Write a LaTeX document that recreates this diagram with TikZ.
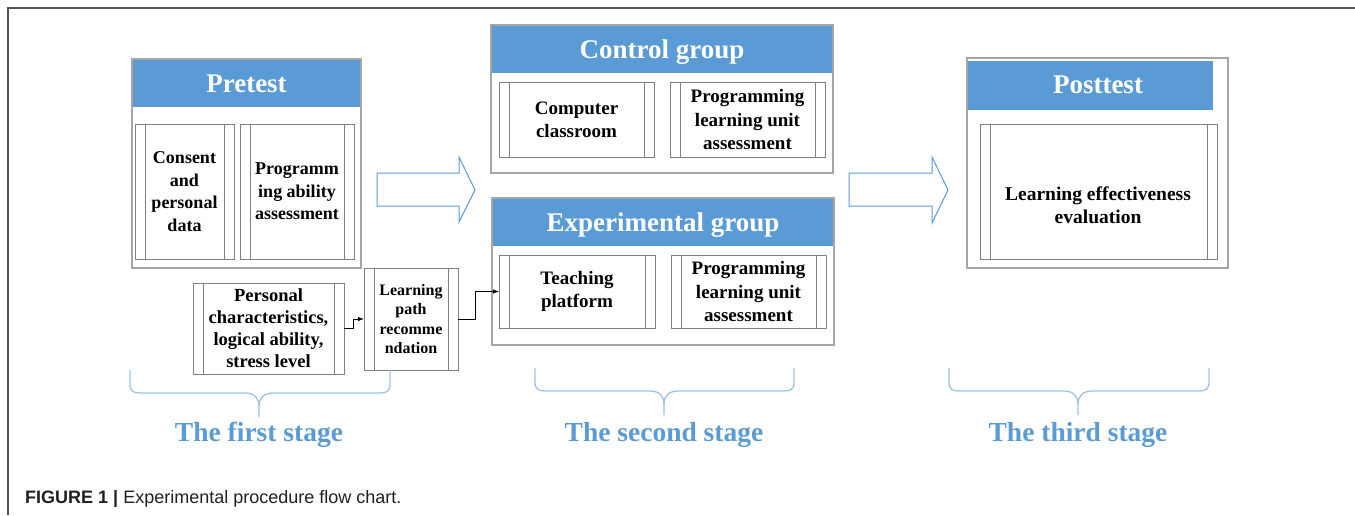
\documentclass[tikz,border=0pt]{standalone}
\usepackage{fontspec}
\setmainfont{Liberation Serif}
\setsansfont{Liberation Sans}
\usetikzlibrary{arrows.meta,calc}
\definecolor{hdr}{HTML}{5B9BD5}
\definecolor{brc}{HTML}{9DC3E6}
\definecolor{obox}{HTML}{A6A6A6}
\definecolor{ibox}{HTML}{808080}
\definecolor{frm}{HTML}{555555}
\definecolor{capc}{HTML}{231F20}
\tikzset{
 outerbox/.style={draw=obox, line width=1.2pt, anchor=north west, inner sep=0pt, outer sep=0pt},
 hdrbox/.style={fill=hdr, anchor=north west, inner sep=0pt, outer sep=0pt, text=white,
   font=\fontsize{27}{27}\selectfont\bfseries, text height=18.5pt, text depth=0pt},
 subproc/.style={draw=ibox, line width=0.9pt, anchor=north west, inner sep=0pt, outer sep=0pt,
   align=center, text=black, font=\bfseries,
   path picture={\draw[ibox, line width=0.9pt]
     ([xshift=10pt]path picture bounding box.north west) -- ([xshift=10pt]path picture bounding box.south west)
     ([xshift=-10pt]path picture bounding box.north east) -- ([xshift=-10pt]path picture bounding box.south east);}},
 blockarrow/.style={draw=hdr, line width=1pt, fill=white, line join=miter},
 conn/.style={draw=black, line width=0.8pt, -{Latex[length=6pt,width=4.5pt]}},
 bracestyle/.style={draw=brc, line width=1.3pt},
 stagetext/.style={anchor=base, text=hdr, font=\fontsize{27.5}{27.5}\selectfont\bfseries},
 framestyle/.style={draw=frm, line width=1.3pt}
}
\newcommand\stbrace[5]{% x1, xm, x2, top, h
 \draw[bracestyle] (#1,#4) -- (#1,#5-9) .. controls (#1,#5-2) and (#1+3,#5) .. (#1+10,#5)
   -- (#2-14,#5) .. controls (#2-5,#5) and (#2,#5+5) .. (#2,#5+13) -- (#2,#5+24);
 \draw[bracestyle] (#3,#4) -- (#3,#5-9) .. controls (#3,#5-2) and (#3-3,#5) .. (#3-10,#5)
   -- (#2+14,#5) .. controls (#2+5,#5) and (#2,#5+5) .. (#2,#5+13);
}
\begin{document}
\begin{tikzpicture}[x=1pt,y=-1pt]
\useasboundingbox (0,0) rectangle (1355,515);
% frame
\draw[framestyle] (8,515) -- (8,8) -- (1355,8);

% Pretest
\node[hdrbox, minimum width=229, minimum height=48] (prehdr) at (132,59) {Pretest};
\node[outerbox, minimum width=229, minimum height=209] (pre) at (132,59) {};
\node[subproc, minimum width=99, minimum height=135, font=\fontsize{18}{22.5}\selectfont\bfseries] (pre1) at (135,124) {Consent\\and\\personal\\data};
\node[subproc, minimum width=114, minimum height=135, font=\fontsize{18}{22.5}\selectfont\bfseries] (pre2) at (240,124) {Programm\\ing ability\\assessment};

% Control group
\node[hdrbox, minimum width=342, minimum height=48] (ctlhdr) at (491,25) {Control group};
\node[outerbox, minimum width=342, minimum height=148] (ctl) at (491,25) {};
\node[subproc, minimum width=155, minimum height=75, font=\fontsize{19}{23}\selectfont\bfseries] (ctl1) at (499,82) {Computer\\classroom};
\node[subproc, minimum width=155, minimum height=75, font=\fontsize{19}{23.3}\selectfont\bfseries] (ctl2) at (670,82) {Programming\\learning unit\\assessment};

% Experimental group
\node[hdrbox, minimum width=342, minimum height=48] (exphdr) at (492,198) {Experimental group};
\node[outerbox, minimum width=342, minimum height=147] (exp) at (492,198) {};
\node[subproc, minimum width=156, minimum height=73, font=\fontsize{19}{23}\selectfont\bfseries] (teach) at (499,255) {Teaching\\platform};
\node[subproc, minimum width=155, minimum height=73, font=\fontsize{19}{23.3}\selectfont\bfseries] (exp2) at (671,255) {Programming\\learning unit\\assessment};

% Posttest
\node[hdrbox, minimum width=246, minimum height=49] (posthdr) at (967,61) {};
\node[anchor=center, text=white, font=\fontsize{27}{27}\selectfont\bfseries, text height=18.5pt, text depth=0pt, inner sep=0pt] (posttitle) at (1098,84) {Posttest};
\node[outerbox, minimum width=261, minimum height=210] (post) at (967,58) {};
\node[subproc, minimum width=237, minimum height=135] (post1) at (980,124) {};
\node[align=center, font=\fontsize{19.5}{23.5}\selectfont\bfseries, inner sep=0pt] (posttext) at (1098,205) {Learning effectiveness\\evaluation};

% bottom small boxes
\node[subproc, minimum width=151, minimum height=91, font=\fontsize{18.5}{22}\selectfont\bfseries] (pers) at (193,283) {Personal\\characteristics,\\logical ability,\\stress level};
\node[subproc, minimum width=94, minimum height=102, font=\fontsize{16}{19.5}\selectfont\bfseries] (lpath) at (364,268) {Learning\\path\\recomme\\ndation};

% connectors
\draw[conn] (pers.east) -- ++(9,0) |- (lpath.west);
\draw[conn] (lpath.east) -- ++(17,0) |- (teach.west);

% block arrows
\draw[blockarrow] (377,173) -- (459,173) -- (459,157) -- (475,190) -- (459,222) -- (459,206) -- (377,206) -- cycle;
\draw[blockarrow] (849,173) -- (932,173) -- (932,157) -- (948,190) -- (932,223) -- (932,206) -- (849,206) -- cycle;

% braces
\stbrace{130}{259}{390}{370}{393}
\stbrace{535}{664}{794}{368}{391}
\stbrace{949}{1078}{1209}{368}{391}

% stage labels
\node[stagetext] (st1) at (259,441) {The first stage};
\node[stagetext] (st2) at (664,441) {The second stage};
\node[stagetext] (st3) at (1078,441) {The third stage};

% caption
\node[anchor=base west, inner sep=0pt, text=capc, font=\fontsize{18}{18}\selectfont\sffamily] (caption) at (25,503) {\textbf{FIGURE 1 |} Experimental procedure flow chart.};
\end{tikzpicture}
\end{document}
